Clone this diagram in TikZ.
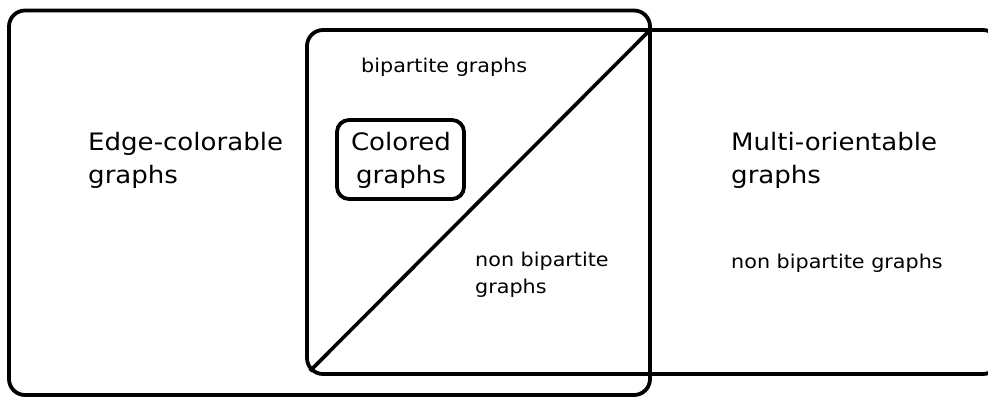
\documentclass[tikz,border=0pt]{standalone}
\usepackage{fontspec}
\setmainfont{DejaVu Sans}
\begin{document}
\begin{tikzpicture}[x=1pt,y=-1pt,
  setbox/.style={line width=3.8pt, rounded corners=16pt},
  bigtxt/.style={font=\fontsize{24}{32.6}\selectfont, inner sep=0pt, anchor=base west, align=left, xscale=1.085, transform shape},
  smalltxt/.style={font=\fontsize{19}{26.7}\selectfont, inner sep=0pt, anchor=base west, align=left, xscale=1.09, transform shape}]
\useasboundingbox (0,0) rectangle (988,397);
\clip (0,0) rectangle (988,397);
\draw[setbox] (9,10.5) rectangle (650,395);
\draw[setbox] (307,30) rectangle (999,374);
\coordinate (dstart) at (310,371);
\coordinate (dend) at (650,30);
\draw[line width=3.6pt] (dstart) -- (dend);
\node[draw, line width=3.8pt, rounded corners=12pt, minimum width=127pt, minimum height=79pt, inner sep=0pt] (colored) at (400.5,159.5) {};
\node[bigtxt, anchor=base, align=center] (coltxt) at (401,183.3) {Colored\\graphs};
\node[bigtxt] (edge) at (88,183.3) {Edge-colorable\\graphs};
\node[bigtxt] (multi) at (731,183.3) {Multi-orientable\\graphs};
\node[smalltxt] (bip) at (361,72) {bipartite graphs};
\node[smalltxt] (nonbip) at (475,293.3) {non bipartite\\graphs};
\node[smalltxt] (nonbipr) at (731,268) {non bipartite graphs};
\end{tikzpicture}
\end{document}
